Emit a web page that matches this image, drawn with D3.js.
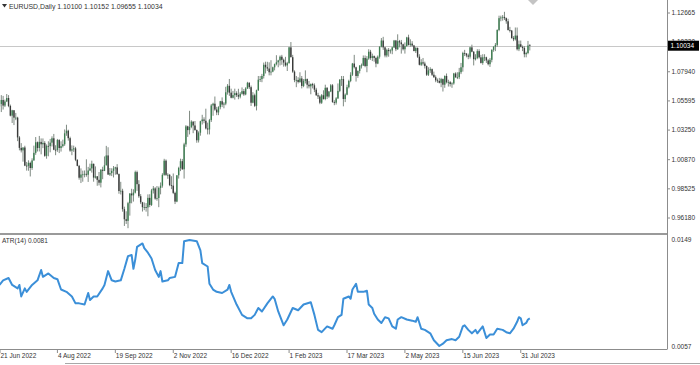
<!DOCTYPE html>
<html>
<head>
<meta charset="utf-8">
<title>EURUSD Daily with ATR(14)</title>
<script src="https://d3js.org/d3.v7.min.js"></script>
<style>
  body { margin: 0; background: #fff; }
  text { font-family: "Liberation Sans", Arial, sans-serif; font-size: 6.5px; fill: #333; }
</style>
</head>
<body>
<script>
// header of the chart
var symbolTitle = "EURUSD,Daily";
var lastBarOHLC = [1.10100, 1.10152, 1.09655, 1.10034];

// daily bars from 21 Jun 2022, weekdays, one week per line
var firstDay = "2022-06-21";
var holidays = ["2022-12-26"];

var opens = [
  1.0515, 1.0535, 1.0567, 1.0522,
  1.0555, 1.0583, 1.0519, 1.0441, 1.0484,
  1.0425, 1.0425, 1.0266, 1.0182, 1.0162,
  1.0185, 1.0039, 1.0037, 1.0061, 1.0020,
  1.0081, 1.0142, 1.0227, 1.0181, 1.0230,
  1.0211, 1.0222, 1.0118, 1.0198, 1.0196,
  1.0224, 1.0259, 1.0167, 1.0165, 1.0245,
  1.0181, 1.0196, 1.0211, 1.0299, 1.0320,
  1.0260, 1.0160, 1.0170, 1.0178, 1.0086,
  1.0037, 0.9942, 0.9968, 0.9969, 0.9973,
  0.9966, 1.0000, 1.0017, 1.0054, 0.9943,
  0.9953, 0.9925, 0.9902, 1.0006, 0.9997,
  1.0042, 1.0121, 0.9967, 0.9979, 0.9997,
  1.0016, 1.0025, 0.9971, 0.9835, 0.9837,
  0.9689, 0.9608, 0.9595, 0.9737, 0.9815,
  0.9800, 0.9822, 0.9987, 0.9890, 0.9793,
  0.9744, 0.9705, 0.9706, 0.9703, 0.9780,
  0.9723, 0.9840, 0.9856, 0.9774, 0.9779,
  0.9860, 0.9878, 0.9965, 1.0079, 0.9965,
  0.9965, 0.9883, 0.9878, 0.9820, 0.9750,
  0.9962, 1.0020, 1.0075, 1.0010, 1.0210,
  1.0355, 1.0325, 1.0350, 1.0393, 1.0362,
  1.0325, 1.0243, 1.0304, 1.0396, 1.0410,
  1.0400, 1.0338, 1.0330, 1.0405, 1.0523,
  1.0537, 1.0490, 1.0467, 1.0509, 1.0557,
  1.0530, 1.0538, 1.0629, 1.0681, 1.0626,
  1.0585, 1.0606, 1.0622, 1.0606, 1.0594,
  1.0617, 1.0638, 1.0612, 1.0660,
  1.0705, 1.0670, 1.0545, 1.0605, 1.0520,
  1.0645, 1.0730, 1.0735, 1.0760, 1.0850,
  1.0830, 1.0820, 1.0790, 1.0795, 1.0830,
  1.0855, 1.0870, 1.0885, 1.0915, 1.0890,
  1.0868, 1.0845, 1.0863, 1.0990, 1.0911,
  1.0795, 1.0727, 1.0728, 1.0712, 1.0740,
  1.0680, 1.0720, 1.0735, 1.0690, 1.0677,
  1.0695, 1.0685, 1.0650, 1.0605, 1.0595,
  1.0545, 1.0605, 1.0575, 1.0665, 1.0595,
  1.0635, 1.0685, 1.0550, 1.0545, 1.0580,
  1.0640, 1.0730, 1.0735, 1.0575, 1.0610,
  1.0670, 1.0720, 1.0770, 1.0860, 1.0830,
  1.0760, 1.0800, 1.0845, 1.0845, 1.0905,
  1.0840, 1.0900, 1.0955, 1.0905, 1.0920,
  1.0905, 1.0860, 1.0915, 1.0995, 1.1045,
  1.0990, 1.0925, 1.0970, 1.0960, 1.0965,
  1.0990, 1.1045, 1.0975, 1.1040, 1.1030,
  1.1015, 1.0975, 1.1000, 1.1070, 1.1010,
  1.1020, 1.1005, 1.0960, 1.0985, 1.0915,
  1.0850, 1.0870, 1.0860, 1.0840, 1.0770,
  1.0805, 1.0815, 1.0770, 1.0750, 1.0725,
  1.0720, 1.0705, 1.0735, 1.0690, 1.0760,
  1.0710, 1.0710, 1.0695, 1.0700, 1.0780,
  1.0750, 1.0750, 1.0790, 1.0830, 1.0945,
  1.0940, 1.0925, 1.0915, 1.0990, 1.0955,
  1.0895, 1.0905, 1.0960, 1.0910, 1.0865,
  1.0910, 1.0910, 1.0885, 1.0855, 1.0890,
  1.0970, 1.0995, 1.1010, 1.1130, 1.1225,
  1.1230, 1.1235, 1.1225, 1.1200, 1.1130,
  1.1125, 1.1065, 1.1055, 1.1085, 1.0975,
  1.1015, 1.0995, 1.0985, 1.0935, 1.0945,
  1.10100
];

var highs = [
  1.0583, 1.0606, 1.0600, 1.0570,
  1.0615, 1.0606, 1.0530, 1.0488, 1.0486,
  1.0463, 1.0432, 1.0277, 1.0220, 1.0186,
  1.0199, 1.0069, 1.0082, 1.0071, 1.0098,
  1.0200, 1.0269, 1.0233, 1.0278, 1.0258,
  1.0258, 1.0236, 1.0210, 1.0235, 1.0254,
  1.0275, 1.0294, 1.0203, 1.0254, 1.0252,
  1.0235, 1.0248, 1.0330, 1.0368, 1.0328,
  1.0272, 1.0202, 1.0200, 1.0190, 1.0090,
  1.0045, 1.0017, 0.9999, 1.0000, 1.0090,
  1.0029, 1.0055, 1.0079, 1.0055, 1.0033,
  0.9955, 0.9988, 1.0011, 1.0030, 1.0113,
  1.0198, 1.0187, 1.0020, 1.0018, 1.0036,
  1.0030, 1.0051, 0.9976, 0.9909, 0.9853,
  0.9709, 0.9672, 0.9748, 0.9818, 0.9853,
  0.9849, 0.9999, 0.9999, 0.9922, 0.9810,
  0.9748, 0.9743, 0.9738, 0.9808, 0.9809,
  0.9852, 0.9875, 0.9866, 0.9875, 0.9871,
  0.9904, 0.9978, 1.0094, 1.0089, 0.9978,
  0.9972, 0.9954, 0.9976, 0.9830, 0.9960,
  1.0030, 1.0095, 1.0093, 1.0223, 1.0365,
  1.0360, 1.0480, 1.0404, 1.0395, 1.0398,
  1.0330, 1.0315, 1.0400, 1.0448, 1.0428,
  1.0497, 1.0385, 1.0415, 1.0535, 1.0545,
  1.0595, 1.0512, 1.0517, 1.0560, 1.0588,
  1.0550, 1.0673, 1.0695, 1.0736, 1.0658,
  1.0640, 1.0658, 1.0637, 1.0657, 1.0630,
  1.0668, 1.0655, 1.0670, 1.0713,
  1.0710, 1.0683, 1.0630, 1.0618, 1.0650,
  1.0760, 1.0760, 1.0777, 1.0868, 1.0875,
  1.0874, 1.0870, 1.0887, 1.0835, 1.0860,
  1.0927, 1.0890, 1.0925, 1.0930, 1.0900,
  1.0914, 1.0874, 1.0995, 1.1033, 1.0930,
  1.0805, 1.0760, 1.0750, 1.0790, 1.0760,
  1.0735, 1.0805, 1.0740, 1.0720, 1.0700,
  1.0705, 1.0700, 1.0665, 1.0625, 1.0605,
  1.0615, 1.0645, 1.0690, 1.0670, 1.0640,
  1.0695, 1.0695, 1.0565, 1.0590, 1.0700,
  1.0735, 1.0760, 1.0760, 1.0620, 1.0690,
  1.0730, 1.0790, 1.0865, 1.0930, 1.0835,
  1.0805, 1.0845, 1.0860, 1.0925, 1.0925,
  1.0920, 1.0975, 1.0970, 1.0940, 1.0925,
  1.0915, 1.0925, 1.1000, 1.1065, 1.1075,
  1.0995, 1.0980, 1.0985, 1.0975, 1.0995,
  1.1050, 1.1050, 1.1095, 1.1050, 1.1050,
  1.1020, 1.1030, 1.1075, 1.1092, 1.1055,
  1.1040, 1.1010, 1.0995, 1.0990, 1.0935,
  1.0895, 1.0905, 1.0875, 1.0845, 1.0830,
  1.0830, 1.0820, 1.0795, 1.0765, 1.0740,
  1.0745, 1.0745, 1.0740, 1.0765, 1.0780,
  1.0730, 1.0720, 1.0710, 1.0785, 1.0790,
  1.0790, 1.0825, 1.0865, 1.0955, 1.0970,
  1.0945, 1.0940, 1.0995, 1.1012, 1.0960,
  1.0935, 1.0975, 1.0975, 1.0930, 1.0935,
  1.0935, 1.0915, 1.0895, 1.0905, 1.0975,
  1.1000, 1.1025, 1.1135, 1.1245, 1.1245,
  1.1250, 1.1276, 1.1230, 1.1220, 1.1155,
  1.1130, 1.1080, 1.1150, 1.1150, 1.1045,
  1.1045, 1.1005, 1.1000, 1.0955, 1.1042,
  1.10152
];

var lows = [
  1.0505, 1.0470, 1.0490, 1.0510,
  1.0550, 1.0509, 1.0435, 1.0382, 1.0365,
  1.0405, 1.0236, 1.0162, 1.0145, 1.0071,
  1.0035, 0.9999, 0.9998, 0.9952, 1.0005,
  1.0079, 1.0126, 1.0153, 1.0153, 1.0130,
  1.0180, 1.0110, 1.0095, 1.0114, 1.0146,
  1.0193, 1.0163, 1.0123, 1.0150, 1.0140,
  1.0152, 1.0185, 1.0198, 1.0279, 1.0240,
  1.0150, 1.0123, 1.0150, 1.0075, 1.0034,
  0.9926, 0.9899, 0.9910, 0.9945, 0.9950,
  0.9908, 0.9995, 0.9983, 0.9910, 0.9935,
  0.9877, 0.9880, 0.9864, 0.9930, 0.9995,
  1.0040, 0.9966, 0.9956, 0.9955, 0.9944,
  0.9966, 0.9965, 0.9813, 0.9807, 0.9669,
  0.9554, 0.9570, 0.9536, 0.9637, 0.9736,
  0.9750, 0.9815, 0.9836, 0.9780, 0.9730,
  0.9670, 0.9681, 0.9669, 0.9632, 0.9705,
  0.9715, 0.9815, 0.9765, 0.9757, 0.9705,
  0.9808, 0.9862, 0.9958, 0.9956, 0.9933,
  0.9874, 0.9850, 0.9810, 0.9730, 0.9745,
  0.9935, 0.9995, 1.0005, 0.9935, 1.0190,
  1.0270, 1.0290, 1.0340, 1.0300, 1.0320,
  1.0223, 1.0225, 1.0280, 1.0370, 1.0380,
  1.0330, 1.0290, 1.0290, 1.0390, 1.0440,
  1.0480, 1.0445, 1.0445, 1.0492, 1.0510,
  1.0500, 1.0525, 1.0610, 1.0600, 1.0580,
  1.0580, 1.0570, 1.0591, 1.0573, 1.0580,
  1.0610, 1.0600, 1.0605, 1.0655,
  1.0655, 1.0519, 1.0540, 1.0510, 1.0483,
  1.0640, 1.0712, 1.0710, 1.0740, 1.0780,
  1.0800, 1.0765, 1.0765, 1.0790, 1.0805,
  1.0845, 1.0830, 1.0845, 1.0850, 1.0835,
  1.0835, 1.0800, 1.0860, 1.0910, 1.0785,
  1.0710, 1.0670, 1.0700, 1.0705, 1.0660,
  1.0670, 1.0700, 1.0660, 1.0660, 1.0613,
  1.0660, 1.0630, 1.0600, 1.0575, 1.0533,
  1.0535, 1.0570, 1.0565, 1.0575, 1.0585,
  1.0630, 1.0545, 1.0525, 1.0530, 1.0575,
  1.0630, 1.0680, 1.0516, 1.0550, 1.0605,
  1.0660, 1.0710, 1.0760, 1.0820, 1.0715,
  1.0745, 1.0780, 1.0820, 1.0840, 1.0830,
  1.0790, 1.0890, 1.0890, 1.0880, 1.0875,
  1.0830, 1.0855, 1.0900, 1.0990, 1.0970,
  1.0910, 1.0910, 1.0915, 1.0940, 1.0935,
  1.0985, 1.0960, 1.0970, 1.0990, 1.0940,
  1.0965, 1.0940, 1.0995, 1.1005, 1.0995,
  1.0995, 1.0960, 1.0945, 1.0905, 1.0845,
  1.0840, 1.0845, 1.0820, 1.0760, 1.0760,
  1.0785, 1.0760, 1.0745, 1.0710, 1.0705,
  1.0700, 1.0670, 1.0635, 1.0665, 1.0700,
  1.0675, 1.0675, 1.0665, 1.0690, 1.0745,
  1.0735, 1.0735, 1.0775, 1.0795, 1.0920,
  1.0910, 1.0895, 1.0900, 1.0950, 1.0845,
  1.0885, 1.0895, 1.0900, 1.0860, 1.0850,
  1.0880, 1.0865, 1.0845, 1.0833, 1.0870,
  1.0955, 1.0960, 1.0995, 1.1120, 1.1200,
  1.1205, 1.1210, 1.1180, 1.1125, 1.1110,
  1.1060, 1.1040, 1.1045, 1.0965, 1.0960,
  1.0990, 1.0960, 1.0910, 1.0910, 1.0935,
  1.09655
];

var closes = [
  1.0535, 1.0567, 1.0522, 1.0555,
  1.0583, 1.0519, 1.0441, 1.0484, 1.0425,
  1.0425, 1.0266, 1.0182, 1.0162, 1.0185,
  1.0039, 1.0037, 1.0061, 1.0020, 1.0081,
  1.0142, 1.0227, 1.0181, 1.0230, 1.0211,
  1.0222, 1.0118, 1.0198, 1.0196, 1.0224,
  1.0259, 1.0167, 1.0165, 1.0245, 1.0181,
  1.0196, 1.0211, 1.0299, 1.0320, 1.0260,
  1.0160, 1.0170, 1.0178, 1.0086, 1.0037,
  0.9942, 0.9968, 0.9969, 0.9973, 0.9966,
  1.0000, 1.0017, 1.0054, 0.9943, 0.9953,
  0.9925, 0.9902, 1.0006, 0.9997, 1.0042,
  1.0121, 0.9967, 0.9979, 0.9997, 1.0016,
  1.0025, 0.9971, 0.9835, 0.9837, 0.9689,
  0.9608, 0.9595, 0.9737, 0.9815, 0.9800,
  0.9822, 0.9987, 0.9890, 0.9793, 0.9744,
  0.9705, 0.9706, 0.9703, 0.9780, 0.9723,
  0.9840, 0.9856, 0.9774, 0.9779, 0.9860,
  0.9878, 0.9965, 1.0079, 0.9965, 0.9965,
  0.9883, 0.9878, 0.9820, 0.9750, 0.9962,
  1.0020, 1.0075, 1.0010, 1.0210, 1.0355,
  1.0325, 1.0350, 1.0393, 1.0362, 1.0325,
  1.0243, 1.0304, 1.0396, 1.0410, 1.0400,
  1.0338, 1.0330, 1.0405, 1.0523, 1.0537,
  1.0490, 1.0467, 1.0509, 1.0557, 1.0530,
  1.0538, 1.0629, 1.0681, 1.0626, 1.0585,
  1.0606, 1.0622, 1.0606, 1.0594, 1.0617,
  1.0638, 1.0612, 1.0660, 1.0705,
  1.0670, 1.0545, 1.0605, 1.0520, 1.0645,
  1.0730, 1.0735, 1.0760, 1.0850, 1.0830,
  1.0820, 1.0790, 1.0795, 1.0830, 1.0855,
  1.0870, 1.0885, 1.0915, 1.0890, 1.0868,
  1.0845, 1.0863, 1.0990, 1.0911, 1.0795,
  1.0727, 1.0728, 1.0712, 1.0740, 1.0680,
  1.0720, 1.0735, 1.0690, 1.0677, 1.0695,
  1.0685, 1.0650, 1.0605, 1.0595, 1.0545,
  1.0605, 1.0575, 1.0665, 1.0595, 1.0635,
  1.0685, 1.0550, 1.0545, 1.0580, 1.0640,
  1.0730, 1.0735, 1.0575, 1.0610, 1.0670,
  1.0720, 1.0770, 1.0860, 1.0830, 1.0760,
  1.0800, 1.0845, 1.0845, 1.0905, 1.0840,
  1.0900, 1.0955, 1.0905, 1.0920, 1.0905,
  1.0860, 1.0915, 1.0995, 1.1045, 1.0990,
  1.0925, 1.0970, 1.0960, 1.0965, 1.0990,
  1.1045, 1.0975, 1.1040, 1.1030, 1.1015,
  1.0975, 1.1000, 1.1070, 1.1010, 1.1020,
  1.1005, 1.0960, 1.0985, 1.0915, 1.0850,
  1.0870, 1.0860, 1.0840, 1.0770, 1.0805,
  1.0815, 1.0770, 1.0750, 1.0725, 1.0720,
  1.0705, 1.0735, 1.0690, 1.0760, 1.0710,
  1.0710, 1.0695, 1.0700, 1.0780, 1.0750,
  1.0750, 1.0790, 1.0830, 1.0945, 1.0940,
  1.0925, 1.0915, 1.0990, 1.0955, 1.0895,
  1.0905, 1.0960, 1.0910, 1.0865, 1.0910,
  1.0910, 1.0885, 1.0855, 1.0890, 1.0970,
  1.0995, 1.1010, 1.1130, 1.1225, 1.1230,
  1.1235, 1.1225, 1.1200, 1.1130, 1.1125,
  1.1065, 1.1055, 1.1085, 1.0975, 1.1015,
  1.0995, 1.0985, 1.0935, 1.0945, 1.1005,
  1.10034
];

// ATR(14): bar index and value
var atrBars = [
  0, 2, 5, 7, 10, 11, 12, 14, 15, 18,
  21, 23, 24, 27, 30, 32, 34, 37, 40, 42,
  44, 47, 49, 50, 52, 54, 57, 58, 60, 62,
  64, 67, 69, 71, 73, 74, 75, 76, 79, 80,
  82, 84, 86, 88, 89, 90, 93, 94, 97, 99,
  101, 102, 105, 109, 111, 112, 115, 116, 118, 120,
  123, 126, 127, 128, 131, 134, 137, 139, 141, 143,
  145, 148, 151, 152, 154, 157, 159, 162, 165, 168,
  172, 174, 176, 178, 181, 184, 185, 187, 189, 190,
  193, 194, 195, 197, 198, 201, 203, 204, 206, 207,
  209, 211, 213, 215, 217, 219, 220, 222, 225, 228,
  230, 231, 233, 235, 238, 240, 243, 245, 247, 250,
  252, 254, 256, 257, 259, 261, 263, 264, 267, 269,
  271, 273, 275, 278, 280, 282, 284, 286, 287, 288,
  289, 291, 292, 293
];
var atrValues = [
  0.0110, 0.0114, 0.0116, 0.0110, 0.0107, 0.0110, 0.0100, 0.0107, 0.0104, 0.0110,
  0.0114, 0.0123, 0.0117, 0.0120, 0.0116, 0.0115, 0.0106, 0.0104, 0.0100, 0.0094,
  0.0094, 0.0093, 0.0103, 0.0097, 0.0100, 0.0100, 0.0107, 0.0110, 0.0122, 0.0114,
  0.0113, 0.0114, 0.0124, 0.0135, 0.0136, 0.0124, 0.0132, 0.0143, 0.0146, 0.0142,
  0.0138, 0.0133, 0.0123, 0.0117, 0.0122, 0.0113, 0.0114, 0.0116, 0.0117, 0.0129,
  0.0129, 0.0148, 0.0149, 0.0148, 0.0140, 0.0129, 0.0126, 0.0111, 0.0106, 0.0104,
  0.0103, 0.0106, 0.0110, 0.0104, 0.0093, 0.0084, 0.0081, 0.0081, 0.0084, 0.0090,
  0.0087, 0.0094, 0.0100, 0.0098, 0.0087, 0.0075, 0.0080, 0.0090, 0.0088, 0.0093,
  0.0095, 0.0084, 0.0071, 0.0069, 0.0074, 0.0072, 0.0075, 0.0082, 0.0084, 0.0098,
  0.0100, 0.0098, 0.0106, 0.0111, 0.0104, 0.0104, 0.0105, 0.0093, 0.0090, 0.0085,
  0.0080, 0.0077, 0.0082, 0.0081, 0.0074, 0.0072, 0.0080, 0.0082, 0.0080, 0.0079,
  0.0078, 0.0082, 0.0072, 0.0071, 0.0068, 0.0062, 0.0057, 0.0059, 0.0062, 0.0063,
  0.0062, 0.0065, 0.0074, 0.0075, 0.0071, 0.0068, 0.0071, 0.0068, 0.0074, 0.0064,
  0.0067, 0.0067, 0.0072, 0.0071, 0.0069, 0.0068, 0.0072, 0.0078, 0.0082, 0.0081,
  0.0075, 0.0077, 0.0080, 0.0081
];
var atrLabel = "ATR(14) 0.0081";

// axis labels
var priceTicks = [1.12665, 1.10320, 1.07940, 1.05595, 1.03250, 1.00870, 0.98525, 0.96180];
var atrTicks = [0.0149, 0.0057];
var dateTicks = ["21 Jun 2022", "4 Aug 2022", "19 Sep 2022", "2 Nov 2022", "16 Dec 2022",
                 "1 Feb 2023", "17 Mar 2023", "2 May 2023", "15 Jun 2023", "31 Jul 2023"];

// ---------------------------------------------------------------
var W = 700, H = 365;
var plotRight = 667;
var mainTop = 0, mainBottom = 233;
var atrTop = 236, atrBottom = 349;

var parseDay = d3.timeParse("%Y-%m-%d");
var fmtDay = d3.timeFormat("%Y-%m-%d");
var fmtTick = d3.timeFormat("%-d %b %Y");

// weekday calendar for the bars
var dates = [];
var day = parseDay(firstDay);
while (dates.length < closes.length) {
    var wd = day.getDay();
    if (wd !== 0 && wd !== 6 && holidays.indexOf(fmtDay(day)) < 0) dates.push(new Date(day));
    day = d3.timeDay.offset(day, 1);
}

var bars = closes.map(function(c, i) {
    return {i: i, date: dates[i], o: opens[i], h: highs[i], l: lows[i], c: c};
});

var x = d3.scaleLinear().domain([0, 293]).range([-0.5, 529.8]);
var y = d3.scaleLinear().domain([0.96180, 1.12665]).range([218, 13]);
var yAtr = d3.scaleLinear().domain([0.0057, 0.0149]).range([346, 240]);

var svg = d3.select("body").append("svg")
    .attr("width", W).attr("height", H);

svg.append("rect").attr("width", W).attr("height", H).attr("fill", "#fff");

svg.append("clipPath").attr("id", "mainClip")
    .append("rect").attr("x", 0).attr("y", mainTop).attr("width", plotRight).attr("height", mainBottom - mainTop);

// current price line
var lastClose = closes[closes.length - 1];
svg.append("line")
    .attr("x1", 0).attr("x2", plotRight)
    .attr("y1", Math.round(y(lastClose)) + 0.5).attr("y2", Math.round(y(lastClose)) + 0.5)
    .attr("stroke", "#c8c8c8").attr("stroke-width", 1);

// chart shift marker
svg.append("path")
    .attr("d", "M528,0 L538,0 L533,5 Z")
    .attr("fill", "#c4c4c4");

// candles
var candles = svg.append("g").attr("clip-path", "url(#mainClip)")
    .selectAll("g").data(bars).enter().append("g");

candles.append("line")
    .attr("x1", function(d) { return x(d.i); })
    .attr("x2", function(d) { return x(d.i); })
    .attr("y1", function(d) { return y(d.h); })
    .attr("y2", function(d) { return y(d.l); })
    .attr("stroke", "#7f8a82").attr("stroke-width", 1);

candles.append("rect")
    .attr("x", function(d) { return x(d.i) - 0.7; })
    .attr("width", 1.4)
    .attr("y", function(d) { return y(Math.max(d.o, d.c)); })
    .attr("height", function(d) { return Math.max(0.8, Math.abs(y(d.o) - y(d.c))); })
    .attr("fill", function(d) { return d.c >= d.o ? "#3c7d50" : "#3a3a3a"; });

// header
svg.append("path").attr("d", "M2,4 L7,4 L4.5,7.5 Z").attr("fill", "#333");
svg.append("text").attr("x", 9).attr("y", 8.5).style("font-size", "6.9px")
    .text(symbolTitle + "  " + lastBarOHLC.map(function(v) { return v.toFixed(5); }).join(" "));

// price axis
svg.append("line").attr("x1", plotRight + 0.5).attr("x2", plotRight + 0.5)
    .attr("y1", 0).attr("y2", atrBottom + 0.5)
    .attr("stroke", "#8c8c8c");

var pt = svg.append("g").selectAll("g").data(priceTicks).enter().append("g")
    .attr("transform", function(d) { return "translate(0," + y(d) + ")"; });
pt.append("line").attr("x1", plotRight).attr("x2", plotRight + 3).attr("stroke", "#8c8c8c");
pt.append("text").attr("x", plotRight + 4.5).attr("dy", "0.35em")
    .text(function(d) { return d.toFixed(5); });

// last price box (covers the tick label behind it, as on the terminal)
var ly = y(lastClose);
svg.append("rect").attr("x", plotRight + 1).attr("y", ly - 5).attr("width", 31).attr("height", 10).attr("fill", "#000");
svg.append("text").attr("x", plotRight + 3.5).attr("y", ly).attr("dy", "0.35em")
    .style("fill", "#fff").text(lastClose.toFixed(5));

// pane separator
svg.append("rect").attr("x", 0).attr("y", mainBottom).attr("width", plotRight).attr("height", 2).attr("fill", "#9a9a9a");

// ATR line
var atrPts = atrBars.map(function(b, k) { return [b, atrValues[k]]; });
svg.append("path").datum(atrPts)
    .attr("fill", "none")
    .attr("stroke", "#3b8fd8")
    .attr("stroke-width", 2)
    .attr("stroke-linejoin", "round")
    .attr("d", d3.line().x(function(d) { return x(d[0]); }).y(function(d) { return yAtr(d[1]); }));

svg.append("text").attr("x", 2).attr("y", 242.5).text(atrLabel);

svg.selectAll(".atrTick").data(atrTicks).enter().append("text")
    .attr("class", "atrTick")
    .attr("x", plotRight + 4.5)
    .attr("y", function(d, i) { return yAtr(d) + (i === 0 ? 0 : 1); })
    .attr("dy", "0.35em")
    .text(function(d) { return d.toFixed(4); });

// bottom border and time axis
svg.append("line").attr("x1", 0).attr("x2", plotRight).attr("y1", atrBottom + 0.5).attr("y2", atrBottom + 0.5)
    .attr("stroke", "#8c8c8c");

var dt = svg.append("g").selectAll("g").data(dateTicks).enter().append("g")
    .attr("transform", function(d) {
        var idx = dates.findIndex(function(t) { return fmtTick(t) === d; });
        return "translate(" + Math.max(0, x(idx)) + ",0)";
    });
dt.append("line").attr("y1", atrBottom + 1).attr("y2", atrBottom + 4).attr("stroke", "#8c8c8c");
dt.append("text").attr("x", 0.5).attr("y", 358).text(function(d) { return d; });

svg.append("line").attr("x1", 65).attr("x2", W).attr("y1", 363.5).attr("y2", 363.5)
    .attr("stroke", "#a8a8a8");
</script>
</body>
</html>
